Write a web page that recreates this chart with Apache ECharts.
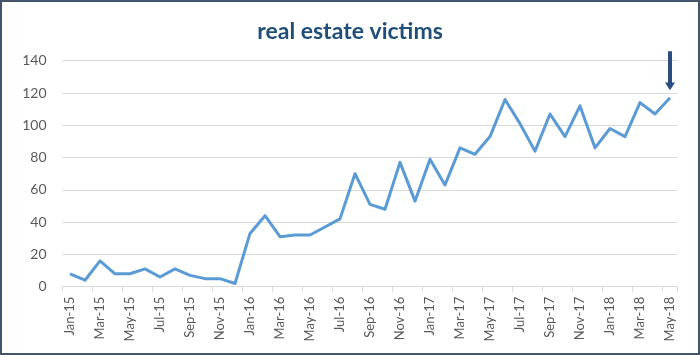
<!DOCTYPE html>
<html>
<head>
<meta charset="utf-8">
<script src="https://cdn.jsdelivr.net/npm/echarts@6/dist/echarts.min.js"></script>
<style>
html,body{margin:0;padding:0;background:#fff;}
#chart{width:700px;height:355px;}
</style>
</head>
<body>
<div id="chart"></div>
<script>
var titleText = 'real estate victims';
var months = ['Jan-15','Feb-15','Mar-15','Apr-15','May-15','Jun-15','Jul-15','Aug-15','Sep-15','Oct-15','Nov-15','Dec-15',
  'Jan-16','Feb-16','Mar-16','Apr-16','May-16','Jun-16','Jul-16','Aug-16','Sep-16','Oct-16','Nov-16','Dec-16',
  'Jan-17','Feb-17','Mar-17','Apr-17','May-17','Jun-17','Jul-17','Aug-17','Sep-17','Oct-17','Nov-17','Dec-17',
  'Jan-18','Feb-18','Mar-18','Apr-18','May-18'];
var victims = [8,4,16,8,8,11,6,11,7,5,5,2,
  33,44,31,32,32,37,42,70,51,48,77,53,
  79,63,86,82,93,116,101,84,107,93,112,86,
  98,93,114,107,117];
var yTicks = [0,20,40,60,80,100,120,140];

var chart = echarts.init(document.getElementById('chart'), null, {renderer:'canvas'});
var font = 'Lato, "Liberation Sans", sans-serif';
chart.setOption({
  animation:false,
  backgroundColor:'#ffffff',
  title:{
    text:titleText,
    left:'center',
    top:15,
    textStyle:{fontFamily:font,fontSize:23,fontWeight:'bold',color:'#1f4e79'}
  },
  graphic:[{
    type:'rect',
    shape:{x:1,y:1,width:698,height:353},
    style:{fill:'none',stroke:'#44546a',lineWidth:2},
    silent:true
  }],
  grid:{left:62.5,right:22.5,top:60.7,bottom:68.3,containLabel:false},
  xAxis:{
    type:'category',
    data:months,
    boundaryGap:true,
    axisLine:{lineStyle:{color:'#d9d9d9',width:1}},
    axisTick:{show:true,interval:1,length:5,lineStyle:{color:'#d9d9d9'}},
    axisLabel:{interval:1,rotate:90,margin:10,fontFamily:font,fontSize:13,color:'#595959'},
    splitLine:{show:false}
  },
  yAxis:{
    type:'value',
    min:yTicks[0],
    max:yTicks[yTicks.length-1],
    interval:20,
    axisLine:{show:false},
    axisTick:{show:false},
    axisLabel:{margin:16,fontFamily:font,fontSize:14,color:'#595959'},
    splitLine:{lineStyle:{color:'#d9d9d9',width:1}}
  },
  series:[{
    type:'line',
    data:victims,
    symbol:'none',
    lineStyle:{color:'#5b9bd5',width:3,join:'round'},
    markPoint:{
      silent:true,
      symbol:'path://M3,0 L7,0 L7,32 L10,32 L5,40 L0,32 L3,32 Z',
      symbolSize:[10,39],
      symbolOffset:[0,-27],
      itemStyle:{color:'#2b4c7e'},
      label:{show:false},
      data:[{coord:[months[months.length-1], victims[victims.length-1]]}]
    }
  }]
});
</script>
</body>
</html>
